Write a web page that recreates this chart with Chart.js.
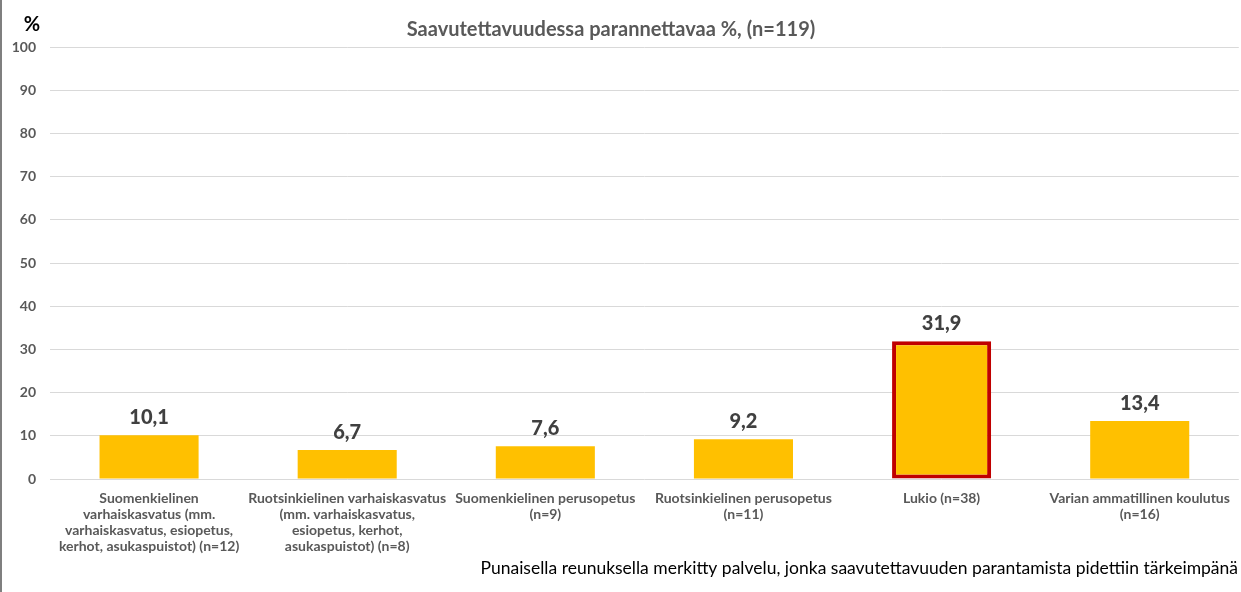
<!DOCTYPE html>
<html>
<head>
<meta charset="utf-8">
<script src="https://cdn.jsdelivr.net/npm/chart.js@4.4.0/dist/chart.umd.min.js"></script>
<style>
  html, body { margin: 0; padding: 0; background: #fff; }
  #wrap { width: 1241px; height: 592px; position: relative; }
</style>
</head>
<body>
<div id="wrap"><canvas id="chart"></canvas></div>
<script>
// ------- Data -------
const categories = [
  ["Suomenkielinen", "varhaiskasvatus (mm.", "varhaiskasvatus, esiopetus,", "kerhot, asukaspuistot) (n=12)"],
  ["Ruotsinkielinen varhaiskasvatus", "(mm. varhaiskasvatus,", "esiopetus, kerhot,", "asukaspuistot) (n=8)"],
  ["Suomenkielinen perusopetus", "(n=9)"],
  ["Ruotsinkielinen perusopetus", "(n=11)"],
  ["Lukio (n=38)"],
  ["Varian ammatillinen koulutus", "(n=16)"]
];
const percentValues = [10.1, 6.7, 7.6, 9.2, 31.9, 13.4];
const borderWidths = [0, 0, 0, 0, 4, 0];
const yTicks = [0, 10, 20, 30, 40, 50, 60, 70, 80, 90, 100];

const titleText = "Saavutettavuudessa parannettavaa %, (n=119)";
const noteText = "Punaisella reunuksella merkitty palvelu, jonka saavutettavuuden parantamista pidettiin tärkeimpänä";

const FONT = "Lato, 'Open Sans', sans-serif";

// ------- Extra text: title, % sign, note, value labels -------
const extrasPlugin = {
  id: "extras",
  afterDraw(chart) {
    const ctx = chart.ctx;
    ctx.save();

    // left frame line
    ctx.fillStyle = "#7f7f7f";
    ctx.fillRect(0, 0, 2, 592);

    // % unit
    ctx.fillStyle = "#000";
    ctx.font = "bold 20px " + FONT;
    ctx.textAlign = "center";
    ctx.textBaseline = "middle";
    ctx.fillText("%", 32, 25);

    // title
    ctx.fillStyle = "#595959";
    ctx.font = "bold 20px " + FONT;
    ctx.fillText(titleText, 611, 30);

    // note
    ctx.fillStyle = "#000";
    ctx.font = "17.5px " + FONT;
    ctx.textAlign = "right";
    ctx.fillText(noteText, 1238, 568);

    // value labels
    const meta = chart.getDatasetMeta(0);
    ctx.fillStyle = "#404040";
    ctx.font = "900 20px " + FONT;
    ctx.textAlign = "center";
    ctx.textBaseline = "alphabetic";
    meta.data.forEach((bar, i) => {
      let label = percentValues[i].toFixed(1).replace(".", ",");
      ctx.fillText(label, bar.x, bar.y - 11);
    });

    ctx.restore();
  }
};

new Chart("chart", {
  type: "bar",
  data: {
    labels: categories,
    datasets: [
      {
        data: percentValues,
        backgroundColor: "#FFC000",
        borderColor: "#C00000",
        borderWidth: borderWidths,
        borderSkipped: false,
        barPercentage: 0.5,
        categoryPercentage: 1.0
      }
    ]
  },
  options: {
    responsive: true,
    maintainAspectRatio: false,
    animation: false,
    layout: { padding: { top: 47, right: 1, left: 0, bottom: 0 } },
    plugins: {
      legend: { display: false },
      tooltip: { enabled: false }
    },
    scales: {
      x: {
        grid: { display: false, drawTicks: false },
        border: { display: false },
        ticks: {
          color: "#595959",
          font: { family: FONT, size: 14, weight: "bold", lineHeight: 1.15 },
          padding: 11,
          maxRotation: 0,
          autoSkip: false
        },
        afterFit(scale) { scale.height = 113; }
      },
      y: {
        min: 0,
        max: 100,
        afterBuildTicks(scale) { scale.ticks = yTicks.map((v) => ({ value: v })); },
        grid: { color: "#d9d9d9", lineWidth: 1, drawTicks: false },
        border: { display: false },
        ticks: {
          color: "#595959",
          font: { family: FONT, size: 14, weight: "bold" },
          padding: 14
        },
        afterFit(scale) { scale.width = 50; }
      }
    }
  },
  plugins: [extrasPlugin]
});
</script>
</body>
</html>
